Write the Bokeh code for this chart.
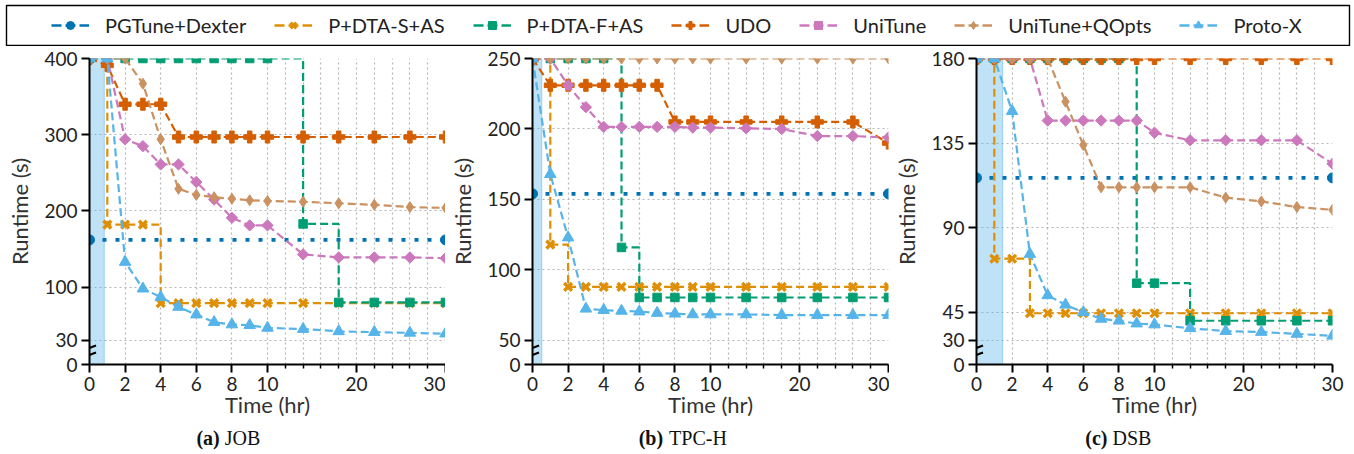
from bokeh.plotting import figure
from bokeh.models import (Range1d, FixedTicker, BoxAnnotation, Label, Legend,
                          LegendItem, Arrow, ColumnDataSource)
from bokeh.layouts import column, row
from bokeh.embed import file_html
from bokeh.resources import INLINE

# ---------------- data ----------------
SERIES = ["PGTune+Dexter", "P+DTA-S+AS", "P+DTA-F+AS", "UDO",
          "UniTune", "UniTune+QOpts", "Proto-X"]
COLORS = ["#0173B2", "#DE8F05", "#029E73", "#D55E00",
          "#CC78BC", "#CA9161", "#56B4E9"]

HOURS = [0, 1, 2, 3, 4, 5, 6, 7, 8, 9, 10, 14, 18, 22, 26, 30]
BASELINE_HOURS = [0, 30]

X_TICKS = [0, 2, 4, 6, 8, 10, 20, 30]
X_TICK_LABELS = ["0", "2", "4", "6", "8", "10", "20", "30"]
X_MINOR = [12, 14, 16, 18, 22, 24, 26, 28]

# (a) JOB
JOB_PGTUNE = [162, 162]
JOB_DTA_S = [400, 182, 182, 182, 79, 79, 79, 79, 79, 79, 79, 79, 79, 79, 79, 79]
JOB_DTA_F = [400, 400, 400, 400, 400, 400, 400, 400, 400, 400, 400, 183, 80, 80, 80, 80]
JOB_UDO = [400, 391, 340, 340, 340, 297, 297, 297, 297, 297, 297, 297, 297, 297, 297, 297]
JOB_UNITUNE = [400, 400, 294, 285, 261, 261, 238, 215, 191, 181, 181, 143, 139, 139, 139, 138]
JOB_UNITUNE_Q = [400, 400, 400, 367, 294, 229, 221, 218, 216, 214, 213, 212, 210, 208, 205, 204]
JOB_PROTOX = [400, 400, 133, 98, 87, 74, 64, 54, 51, 50, 46.5, 45, 42, 41, 40, 39]
JOB_Y_TICKS = [30, 100, 200, 300, 400]
JOB_SETUP_HR = 0.83

# (b) TPC-H
TPCH_PGTUNE = [154, 154]
TPCH_DTA_S = [250, 118, 88, 88, 88, 88, 88, 88, 88, 88, 88, 88, 88, 88, 88, 88]
TPCH_DTA_F = [250, 250, 250, 250, 250, 116, 80.5, 80.5, 80.5, 80.5, 80.5, 80.5, 80.5, 80.5, 80.5, 80.5]
TPCH_UDO = [250, 231, 231, 231, 231, 231, 231, 231, 205, 205, 205, 205, 205, 205, 205, 190]
TPCH_UNITUNE = [250, 250, 231, 215.5, 201.5, 201.5, 201.5, 201.5, 201.5, 201, 201, 200.5, 200, 195, 195, 194]
TPCH_UNITUNE_Q = [250, 250, 250, 250, 250, 250, 250, 250, 250, 250, 250, 250, 250, 250, 250, 250]
TPCH_PROTOX = [250, 168, 123, 72.5, 71.5, 71, 70.5, 69.5, 69, 68.5, 68.5, 68.5, 68, 68, 68, 68]
TPCH_Y_TICKS = [50, 100, 150, 200, 250]
TPCH_SETUP_HR = 0.52

# (c) DSB
DSB_PGTUNE = [116.5, 116.5]
DSB_DTA_S = [180, 73.5, 73.5, 44.5, 44.5, 44.5, 44.5, 44.5, 44.5, 44.5, 44.5, 44.5, 44.5, 44.5, 44.5, 44.5]
DSB_DTA_F = [180, 180, 180, 180, 180, 180, 180, 180, 180, 60.5, 60.5, 40.5, 40.5, 40.5, 40.5, 40.5]
DSB_UDO = [180, 180, 180, 180, 180, 180, 180, 180, 180, 180, 180, 180, 180, 180, 180, 180]
DSB_UNITUNE = [180, 180, 180, 180, 147, 147, 147, 147, 147, 147, 140.5, 136.5, 136.5, 136.5, 136.5, 124]
DSB_UNITUNE_Q = [180, 180, 180, 180, 180, 157, 134, 111.5, 111.5, 111.5, 111.5, 111.5, 106, 104, 101, 99.5]
DSB_PROTOX = [180, 180, 152, 76, 54, 49, 45, 41.5, 40.5, 39, 38.5, 36.5, 35, 34.5, 33.5, 32.5]
DSB_Y_TICKS = [30, 45, 90, 135, 180]
DSB_SETUP_HR = 1.47

PANELS = [
    ([JOB_PGTUNE, JOB_DTA_S, JOB_DTA_F, JOB_UDO, JOB_UNITUNE, JOB_UNITUNE_Q, JOB_PROTOX],
     JOB_Y_TICKS, JOB_SETUP_HR),
    ([TPCH_PGTUNE, TPCH_DTA_S, TPCH_DTA_F, TPCH_UDO, TPCH_UNITUNE, TPCH_UNITUNE_Q, TPCH_PROTOX],
     TPCH_Y_TICKS, TPCH_SETUP_HR),
    ([DSB_PGTUNE, DSB_DTA_S, DSB_DTA_F, DSB_UDO, DSB_UNITUNE, DSB_UNITUNE_Q, DSB_PROTOX],
     DSB_Y_TICKS, DSB_SETUP_HR),
]
CAPTION_LETTERS = ["(a)", "(b)", "(c)"]
CAPTION_NAMES = ["JOB", "TPC-H", "DSB"]

# ---------------- styling / layout ----------------
SANS = "Lato"
SERIF = "Liberation Serif"
PAGE_W, PAGE_H = 1354, 454
FW, FH = 356, 306           # frame size of each panel
GAP_PX, UPPER_PX = 24, 282  # broken y axis: 0..first tick squeezed into GAP_PX
LEFT_BORDER = [89, 87, 87]
RIGHT_BORDER = [0, 1, 21]
LEG_H = 46
TOP_BORDER = 12
BOTTOM_BORDER = 64
CAP_H = PAGE_H - LEG_H - TOP_BORDER - FH - BOTTOM_BORDER
CAPTION_SPLIT = [(215, 220), (662, 668), (1110, 1115)]
CAPTION_Y = 437
DASH = "8 4"

MARK = [
    dict(marker="circle", size=10),
    dict(marker="x", size=11, line_width=3.4),
    dict(marker="square", size=8.5),
    dict(marker="plus", size=12),
    dict(marker="square", size=8, angle=0.785398),
    dict(marker="diamond", size=11),
    dict(marker="triangle", size=11.5),
]
STEP = [False, True, True, False, False, False, False]


def warp(h):
    """piece-wise time axis: 0-10 h at full scale, 10-30 h at half scale"""
    return h if h <= 10 else 10 + (h - 10) / 2.0


def style_axis(ax):
    ax.axis_line_width = 2
    ax.axis_line_color = "black"
    ax.major_tick_line_width = 2
    ax.major_tick_line_color = "black"
    ax.major_tick_out = 8
    ax.major_tick_in = 0
    ax.minor_tick_line_width = 1.5
    ax.minor_tick_line_color = "black"
    ax.minor_tick_out = 4
    ax.minor_tick_in = 0
    ax.major_label_text_font = SANS
    ax.major_label_text_font_size = "19px"
    ax.major_label_text_color = "#222222"
    ax.major_label_standoff = 4
    ax.axis_label_text_font = SANS
    ax.axis_label_text_font_size = "22px"
    ax.axis_label_text_font_style = "normal"
    ax.axis_label_text_color = "#333333"


def make_panel(idx, vals, y_ticks, setup_hr):
    t0, top = y_ticks[0], y_ticks[-1]
    ybot = round(t0 - (top - t0) * GAP_PX / UPPER_PX, 4)
    p = figure(frame_width=FW, frame_height=FH,
               x_range=Range1d(0, warp(30)), y_range=Range1d(ybot, top),
               output_backend="svg", toolbar_location=None,
               min_border_left=LEFT_BORDER[idx], min_border_right=RIGHT_BORDER[idx],
               min_border_top=TOP_BORDER, min_border_bottom=BOTTOM_BORDER,
               outline_line_color=None, background_fill_color="white",
               border_fill_color="white")
    p.xaxis.ticker = FixedTicker(ticks=[warp(t) for t in X_TICKS],
                                 minor_ticks=[warp(t) for t in X_MINOR])
    p.xaxis.major_label_overrides = {warp(t): lab for t, lab in zip(X_TICKS, X_TICK_LABELS)}
    p.yaxis.ticker = FixedTicker(ticks=[ybot] + list(y_ticks), minor_ticks=[])
    p.yaxis.major_label_overrides = {ybot: "0"}
    style_axis(p.xaxis[0])
    style_axis(p.yaxis[0])
    p.xaxis.axis_label = "Time (hr)"
    p.yaxis.axis_label = "Runtime (s)"
    p.yaxis.axis_label_standoff = 8
    p.xaxis.axis_label_standoff = -3

    for g in (p.xgrid[0], p.ygrid[0]):
        g.grid_line_color = "#b5b5b5"
        g.grid_line_dash = "2 3"
        g.grid_line_width = 1.2
    p.xgrid.minor_grid_line_color = "#b5b5b5"
    p.xgrid.minor_grid_line_dash = "2 3"
    p.xgrid.minor_grid_line_width = 1.2

    # setup-time shading
    p.add_layout(BoxAnnotation(left=0, right=warp(setup_hr), fill_color="#56B4E9",
                               fill_alpha=0.38, line_color="#56B4E9", line_alpha=0.5,
                               line_width=1, level="underlay"))

    for i, col in enumerate(COLORS):
        ys = vals[i]
        hrs = BASELINE_HOURS if len(ys) == 2 else HOURS
        src = ColumnDataSource(dict(x=[warp(h) for h in hrs], y=ys))
        if i == 0:
            p.line("x", "y", source=src, line_color=col, line_width=3.6,
                   line_dash="4 9", line_cap="butt")
        elif STEP[i]:
            p.step("x", "y", source=src, mode="after", line_color=col,
                   line_width=2.2, line_dash=DASH)
        else:
            p.line("x", "y", source=src, line_color=col, line_width=2.2,
                   line_dash=DASH)
        m = dict(MARK[i])
        lw = m.pop("line_width", 1)
        p.scatter("x", "y", source=src, fill_color=col, line_color=col,
                  line_width=lw, **m)

    # axis break marks
    ux = warp(30) / FW
    uy = (top - t0) / UPPER_PX
    for y0 in (7, 14):
        p.add_layout(Arrow(start=None, end=None,
                           x_start=-6.5 * ux, y_start=ybot + y0 * uy,
                           x_end=6.5 * ux, y_end=ybot + (y0 + 5) * uy,
                           line_color="black", line_width=2))
    return p


panels = [make_panel(i, *spec) for i, spec in enumerate(PANELS)]

# ---------------- legend strip ----------------
lf = figure(frame_width=1343, frame_height=40, x_range=Range1d(100, 101),
            y_range=Range1d(100, 101), x_axis_type=None, y_axis_type=None,
            output_backend="svg", toolbar_location=None,
            min_border_left=6, min_border_right=5, min_border_top=5,
            min_border_bottom=LEG_H - 45,
            outline_line_color="black", outline_line_width=1.4)
items = []
for i, (s, col) in enumerate(zip(SERIES, COLORS)):
    src = ColumnDataSource(dict(x=[0, 1], y=[0, 0]))
    lr = lf.line("x", "y", source=src, line_color=col, line_width=2.4,
                 line_dash="10 4")
    m = dict(MARK[i])
    lw = m.pop("line_width", 1)
    mr = lf.scatter("x", "y", source=src, fill_color=col, line_color=col,
                    line_width=lw, **m)
    items.append(LegendItem(label=s, renderers=[lr, mr]))
leg = Legend(items=items, orientation="horizontal", location=(45, 8),
             glyph_width=38, glyph_height=20, label_standoff=16, spacing=28,
             padding=0, margin=0, border_line_alpha=0, background_fill_alpha=0,
             label_text_font=SANS, label_text_font_size="20px",
             label_text_color="#222222")
lf.add_layout(leg)

# ---------------- caption strip ----------------
cf = figure(width=PAGE_W, height=CAP_H, x_range=Range1d(0, PAGE_W),
            y_range=Range1d(CAP_H, 0), x_axis_type=None, y_axis_type=None,
            output_backend="svg", toolbar_location=None, min_border=0,
            outline_line_color=None)
cap_row_y = CAPTION_Y - (PAGE_H - CAP_H)
for (xr, xl), letter, name in zip(CAPTION_SPLIT, CAPTION_LETTERS, CAPTION_NAMES):
    cf.add_layout(Label(x=xr, y=cap_row_y, text=letter, text_font=SERIF,
                        text_font_style="bold", text_font_size="20px",
                        text_align="right", text_baseline="middle",
                        text_color="#111111"))
    cf.add_layout(Label(x=xl, y=cap_row_y, text=name, text_font=SERIF,
                        text_font_size="20px", text_align="left",
                        text_baseline="middle", text_color="#111111"))

layout = column(lf, row(*panels), cf)
open("out.html", "w").write(file_html(layout, INLINE))
